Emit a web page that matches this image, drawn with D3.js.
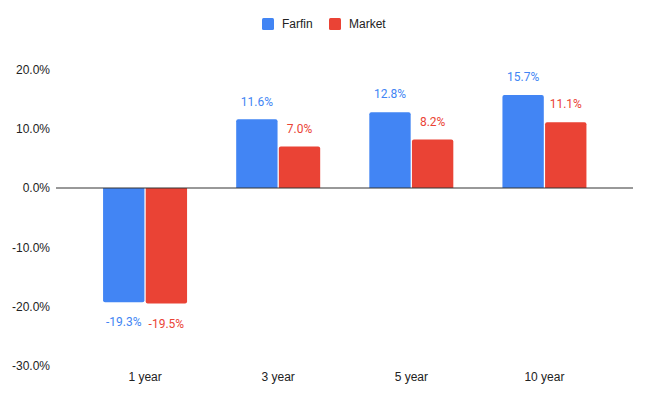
<!DOCTYPE html>
<html><head><meta charset="utf-8">
<script src="https://cdn.jsdelivr.net/npm/d3@7"></script>
<style>body{margin:0;background:#fff}svg{display:block}</style>
</head><body>
<svg id="c" width="649" height="401"></svg>
<script>
const categories = ["1 year", "3 year", "5 year", "10 year"];
const seriesNames = ["Farfin", "Market"];
const farfin = [-19.3, 11.6, 12.8, 15.7];
const market = [-19.5, 7.0, 8.2, 11.1];
const yTicks = [-30, -20, -10, 0, 10, 20];
const colors = ["#4285F4", "#EA4335"];

const svg = d3.select("#c");
const y = d3.scaleLinear().domain([-30, 20]).range([365.6, 69.6]);
const x = d3.scaleBand().domain(categories).range([78.5, 611]);
const xs = d3.scaleBand().domain(seriesNames).range([0, 84]).paddingInner(0.03);
const series = [farfin, market];
const fmt = v => v.toFixed(1) + "%";

// y tick labels
const yAxis = d3.axisLeft(y).tickValues(yTicks).tickFormat(fmt).tickSize(0).tickPadding(0);
const ya = svg.append("g").attr("transform", "translate(50,0)").call(yAxis);
ya.select(".domain").remove();
ya.selectAll("text").attr("font-family", "Arial, 'Liberation Sans', sans-serif").attr("font-size", 12).attr("fill", "#222");

// bars
function barPath(x0, w, v) {
  const y0 = y(0), y1 = y(v), r = 2;
  if (v >= 0) {
    return `M${x0},${y0}V${y1 + r}Q${x0},${y1} ${x0 + r},${y1}H${x0 + w - r}Q${x0 + w},${y1} ${x0 + w},${y1 + r}V${y0}Z`;
  } else {
    return `M${x0},${y0}V${y1 - r}Q${x0},${y1} ${x0 + r},${y1}H${x0 + w - r}Q${x0 + w},${y1} ${x0 + w},${y1 - r}V${y0}Z`;
  }
}
series.forEach((vals, si) => {
  const g = svg.append("g");
  categories.forEach((c, i) => {
    const cx = x(c) + x.bandwidth() / 2 - 42 + xs(seriesNames[si]);
    const w = xs.bandwidth();
    g.append("path").attr("d", barPath(cx, w, vals[i])).attr("fill", colors[si]);
    const v = vals[i];
    g.append("text")
      .attr("x", cx + w / 2)
      .attr("y", v >= 0 ? y(v) - 18 : y(v) + 20)
      .attr("dy", "0.35em")
      .attr("text-anchor", "middle")
      .attr("font-family", "Roboto, Arial, sans-serif")
      .attr("font-size", 12)
      .attr("fill", colors[si])
      .text(fmt(v));
  });
});

// zero line
svg.append("line").attr("x1", 56).attr("x2", 633).attr("y1", y(0)).attr("y2", y(0))
  .attr("stroke", "#333").attr("stroke-width", 1);

// x labels
const xAxis = d3.axisBottom(x).tickSize(0).tickPadding(0);
const xa = svg.append("g").attr("transform", "translate(0,372)").call(xAxis);
xa.select(".domain").remove();
xa.selectAll("text").attr("font-family", "Arial, 'Liberation Sans', sans-serif").attr("font-size", 12).attr("fill", "#222");

// legend
const leg = svg.append("g");
const legX = [262, 329];
seriesNames.forEach((n, i) => {
  leg.append("rect").attr("x", legX[i]).attr("y", 18).attr("width", 12).attr("height", 12).attr("rx", 1.5).attr("fill", colors[i]);
  leg.append("text").attr("x", legX[i] + 20).attr("y", 24).attr("dy", "0.35em")
    .attr("font-family", "Arial, 'Liberation Sans', sans-serif").attr("font-size", 12).attr("fill", "#222").text(n);
});
</script>
</body></html>
